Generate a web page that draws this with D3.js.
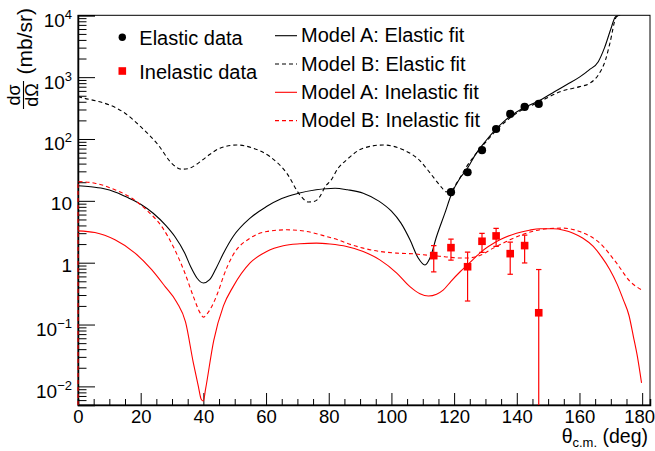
<!DOCTYPE html>
<html>
<head>
<meta charset="utf-8">
<script src="https://cdn.jsdelivr.net/npm/d3@7"></script>
<style>
  body { margin: 0; background: #fff; }
  svg { display: block; font-family: "Liberation Sans", Arial, Helvetica, sans-serif; }
</style>
</head>
<body>
<svg id="chart" width="655" height="451"></svg>
<script>
// Measured points
const elasticTheta = [119.0, 124.3, 128.9, 133.4, 137.9, 142.5, 147.0];
const elasticXs = [13.8, 29, 66, 145, 254, 330, 369];

const inelasticTheta = [113.5, 119.0, 124.3, 128.9, 133.4, 137.9, 142.5, 147.0];
const inelasticXs = [1.30, 1.75, 0.86, 2.22, 2.71, 1.40, 1.89, 0.155];
const inelasticErr = [0.59, 0.65, 0.62, 0.75, 0.88, 0.75, 0.90, 0.62];

// Model A: elastic fit
const thetaAEl = [0, 4, 8, 12, 16, 20, 24, 28, 31, 34, 36, 38, 40, 42, 44, 46.5, 49.5, 55, 60, 65, 70, 76, 82, 86, 91, 96, 100, 103, 106, 108.5, 110.7, 112.3, 114.4, 117, 119.2, 121.8, 124, 127, 130, 133, 136, 139, 142, 145, 148, 152, 156, 160, 163, 166, 168, 170, 171.5, 173];
const modelAEl = [17.5, 16.9, 15.8, 13.8, 11.2, 8.8, 6.3, 4.0, 2.6, 1.45, 0.85, 0.56, 0.47, 0.53, 0.8, 1.45, 2.65, 5.3, 8.0, 10.9, 13.1, 15.1, 16.0, 15.1, 13.3, 9.9, 6.8, 4.4, 2.3, 1.2, 0.92, 1.19, 2.65, 6.2, 13, 23, 32, 58, 92, 138, 195, 255, 315, 370, 440, 580, 760, 1000, 1300, 1780, 3000, 6000, 9500, 15000];

// Model B: elastic fit
const thetaBEl = [0, 2, 6, 10, 15, 20, 25.6, 30, 33, 35, 37.5, 39.5, 42, 45.3, 50.6, 55.9, 61.2, 66.6, 70.8, 73.5, 75, 76.5, 79.3, 80.4, 83, 85.7, 91, 97.4, 103.8, 109, 111.5, 114, 116, 117.5, 118.7, 120.8, 124, 129.3, 134.6, 139.9, 147.4, 153.8, 160.1, 163.3, 166, 168.3, 169.7, 171.8, 173];
const modelBEl = [484, 456, 410, 356, 261, 158, 80, 40, 32.5, 33, 38, 45, 56, 71, 80, 71, 52, 28, 12.5, 9.6, 9.7, 10.6, 18.1, 20.5, 33.7, 46, 71, 80, 66.7, 45, 32, 22, 16.5, 14, 14, 19.3, 35.8, 80, 158, 261, 402, 583, 703, 797, 1086, 1897, 3530, 9480, 14000];

// Model A: inelastic fit
const thetaAIn = [0, 5.4, 11.8, 18.2, 23.5, 27.8, 31.5, 34.3, 36.8, 38.4, 39.3, 40, 40.7, 43.3, 46.4, 49.5, 54.9, 60.2, 65.5, 70.8, 76.1, 80.4, 85.7, 91, 96.3, 101.7, 105.9, 109.1, 111.8, 114.4, 116.5, 119, 122, 125, 128.2, 134.6, 139.9, 144, 147.4, 151.6, 155, 158, 161, 164.4, 167, 169.7, 172, 174, 175.8, 177.2, 178.5, 179.8];
const modelAIn = [3.27, 3.07, 2.34, 1.43, 0.77, 0.41, 0.23, 0.11, 0.024, 0.010, 0.0062, 0.0058, 0.009, 0.055, 0.2, 0.41, 0.99, 1.52, 1.88, 2.02, 2.07, 2.0, 1.83, 1.52, 1.11, 0.68, 0.41, 0.315, 0.29, 0.31, 0.36, 0.5, 0.72, 1.0, 1.43, 2.34, 3.0, 3.35, 3.53, 3.53, 3.35, 3.0, 2.5, 1.83, 1.25, 0.77, 0.45, 0.25, 0.14, 0.064, 0.03, 0.0114];

// Model B: inelastic fit
const thetaBIn = [0, 5.4, 11.8, 17.1, 22.4, 26.7, 30.9, 34.1, 36.8, 39, 40, 41, 43.2, 45.3, 46.4, 49.5, 54.9, 60.2, 66.6, 73, 79.3, 83, 85.7, 91, 96.3, 101.7, 107, 112.3, 117, 121.8, 124, 128.2, 132.5, 137.8, 143.1, 149.5, 154.8, 160.1, 166.5, 171.8, 176.1, 179.8];
const modelBIn = [20.5, 19.3, 15.1, 11.1, 6.7, 3.85, 1.61, 0.68, 0.284, 0.153, 0.132, 0.145, 0.222, 0.41, 0.6, 1.34, 2.49, 3.19, 3.40, 3.19, 2.65, 2.34, 2.07, 1.72, 1.52, 1.43, 1.39, 1.31, 1.25, 1.19, 1.19, 1.31, 1.72, 2.34, 3.0, 3.53, 3.62, 3.19, 2.07, 0.99, 0.50, 0.365];

const xTicks = [0, 20, 40, 60, 80, 100, 120, 140, 160, 180];
const xMinorTicks = d3.range(0, 181, 5);

const fitLabels = ["Model A: Elastic fit", "Model B: Elastic fit", "Model A: Inelastic fit", "Model B: Inelastic fit"];
const dataLabels = ["Elastic data", "Inelastic data"];

const svg = d3.select("#chart");
const margin = { top: 15.3, right: 5, bottom: 46, left: 78 };
const W = 655, H = 451;

const x = d3.scaleLinear().domain([0, 182.5]).range([margin.left, W - margin.right]);
const y = d3.scaleLog().domain([0.005, 1e4]).range([H - margin.bottom, margin.top]).clamp(true);

const red = "#ff0000";

// clip for the curves
svg.append("clipPath").attr("id", "plotClip")
  .append("rect")
  .attr("x", margin.left - 1).attr("y", margin.top)
  .attr("width", W - margin.right - margin.left + 1)
  .attr("height", H - margin.bottom - margin.top);

// frame
svg.append("rect")
  .attr("x", margin.left).attr("y", margin.top)
  .attr("width", W - margin.right - margin.left)
  .attr("height", H - margin.bottom - margin.top)
  .attr("fill", "none").attr("stroke", "#000").attr("stroke-width", 1);

const isMajor = d => Math.abs(Math.log10(d) - Math.round(Math.log10(d))) < 1e-9;

// y axis
const yAxis = svg.append("g")
  .attr("transform", `translate(${margin.left},0)`)
  .call(d3.axisLeft(y).tickValues(y.ticks()).tickSize(-17).tickPadding(6).tickFormat(""));
yAxis.select(".domain").attr("stroke-width", 1.5);
yAxis.selectAll(".tick line").attr("x2", d => isMajor(d) ? 17 : 8.5).attr("stroke", "#000");
yAxis.selectAll(".tick").filter(isMajor).select("text")
  .attr("font-size", 19).attr("fill", "#000").attr("dy", null)
  .each(function(d) {
    const n = Math.round(Math.log10(d));
    const t = d3.select(this);
    if (n === 0 || n === 1) {
      t.attr("y", 8.5).text(n === 0 ? "1" : "10");
    } else {
      t.attr("y", 11);
      t.append("tspan").text("10");
      t.append("tspan").attr("font-size", 13).attr("dy", -8)
        .text(n < 0 ? "\u2212" + (-n) : String(n));
    }
  });

// x axis
const xAxis = svg.append("g")
  .attr("transform", `translate(0,${H - margin.bottom})`)
  .call(d3.axisBottom(x).tickValues(xMinorTicks).tickSize(-6).tickPadding(5)
    .tickFormat(d => xTicks.includes(d) ? d : ""));
xAxis.select(".domain").attr("stroke-width", 1.5);
xAxis.selectAll(".tick line").attr("y2", d => xTicks.includes(d) ? -12 : -6).attr("stroke", "#000");
xAxis.selectAll(".tick text").attr("font-size", 18.5).attr("fill", "#000")
  .attr("dx", d => d === 180 ? -3 : null);

// axis titles
const xTitle = svg.append("text")
  .attr("x", 648).attr("y", 443)
  .attr("text-anchor", "end").attr("font-size", 19.5);
xTitle.append("tspan").text("\u03b8");
xTitle.append("tspan").attr("font-size", 13).attr("dy", 3.5).text("c.m.");
xTitle.append("tspan").attr("dy", -3.5).text(" (deg)");

const yTitle = svg.append("g").attr("transform", "rotate(-90)");
yTitle.append("text")
  .attr("x", -8).attr("y", 32)
  .attr("text-anchor", "end").attr("font-size", 21)
  .text("(mb/sr)");
yTitle.append("text")
  .attr("x", -95).attr("y", 20)
  .attr("text-anchor", "middle").attr("font-size", 18)
  .text("d\u03c3");
yTitle.append("line")
  .attr("x1", -109).attr("x2", -81).attr("y1", 23.5).attr("y2", 23.5)
  .attr("stroke", "#000").attr("stroke-width", 1.1);
yTitle.append("text")
  .attr("x", -95).attr("y", 37.5)
  .attr("text-anchor", "middle").attr("font-size", 18)
  .text("d\u03a9");

// fit curves
const line = d3.line()
  .x(d => x(d[0]))
  .y(d => y(d[1]))
  .curve(d3.curveMonotoneX);

const curves = svg.append("g").attr("clip-path", "url(#plotClip)");

function drawFit(thetas, vals, color, dash, fromBottom) {
  let d = line(d3.zip(thetas, vals));
  if (fromBottom) d = `M${x(0)},${y.range()[0]}L${d.slice(1)}`;
  curves.append("path")
    .attr("d", d)
    .attr("fill", "none")
    .attr("stroke", color)
    .attr("stroke-width", 1.1)
    .attr("stroke-dasharray", dash);
}

drawFit(thetaAEl, modelAEl, "#000", null, false);
drawFit(thetaBEl, modelBEl, "#000", "4,3", false);
drawFit(thetaAIn, modelAIn, red, null, false);
drawFit(thetaBIn, modelBIn, red, "4,3", true);

// inelastic data with error bars
const inel = svg.append("g").attr("clip-path", "url(#plotClip)");
const inelData = d3.zip(inelasticTheta, inelasticXs, inelasticErr);
inel.selectAll("line.err")
  .data(inelData).enter().append("line")
  .attr("class", "err")
  .attr("x1", d => x(d[0])).attr("x2", d => x(d[0]))
  .attr("y1", d => y(d[1] + d[2]))
  .attr("y2", d => d[1] - d[2] > 0 ? y(d[1] - d[2]) : y.range()[0])
  .attr("stroke", red).attr("stroke-width", 1.2);
inel.selectAll("line.capTop")
  .data(inelData).enter().append("line")
  .attr("class", "capTop")
  .attr("x1", d => x(d[0]) - 2.7).attr("x2", d => x(d[0]) + 2.7)
  .attr("y1", d => y(d[1] + d[2])).attr("y2", d => y(d[1] + d[2]))
  .attr("stroke", red).attr("stroke-width", 1.2);
inel.selectAll("line.capBot")
  .data(inelData.filter(d => d[1] - d[2] > 0)).enter().append("line")
  .attr("class", "capBot")
  .attr("x1", d => x(d[0]) - 2.7).attr("x2", d => x(d[0]) + 2.7)
  .attr("y1", d => y(d[1] - d[2])).attr("y2", d => y(d[1] - d[2]))
  .attr("stroke", red).attr("stroke-width", 1.2);
inel.selectAll("rect")
  .data(inelData).enter().append("rect")
  .attr("x", d => x(d[0]) - 3.8).attr("y", d => y(d[1]) - 3.8)
  .attr("width", 7.6).attr("height", 7.6)
  .attr("fill", red);

// elastic data
svg.append("g").selectAll("circle")
  .data(d3.zip(elasticTheta, elasticXs)).enter().append("circle")
  .attr("cx", d => x(d[0])).attr("cy", d => y(d[1]))
  .attr("r", 4.1).attr("fill", "#000");

// legend: data
const legend = svg.append("g").attr("font-size", 20).attr("fill", "#000");
legend.append("circle").attr("cx", 122.3).attr("cy", 37.3).attr("r", 3.7).attr("fill", "#000");
legend.append("text").attr("x", 139.3).attr("y", 45).text(dataLabels[0]);
legend.append("rect").attr("x", 118.5).attr("y", 67.2).attr("width", 7.6).attr("height", 7.6).attr("fill", red);
legend.append("text").attr("x", 139.3).attr("y", 78.5).text(dataLabels[1]);

// legend: fits
const fitStyles = [["#000", null], ["#000", "4,3"], [red, null], [red, "4,3"]];
fitLabels.forEach((lab, i) => {
  const ly = 35.7 + i * 28.3;
  legend.append("line")
    .attr("x1", 275).attr("x2", 297).attr("y1", ly).attr("y2", ly)
    .attr("stroke", fitStyles[i][0]).attr("stroke-width", 1.1)
    .attr("stroke-dasharray", fitStyles[i][1]);
  legend.append("text").attr("x", 301).attr("y", ly + 6.5).text(lab);
});
</script>
</body>
</html>
